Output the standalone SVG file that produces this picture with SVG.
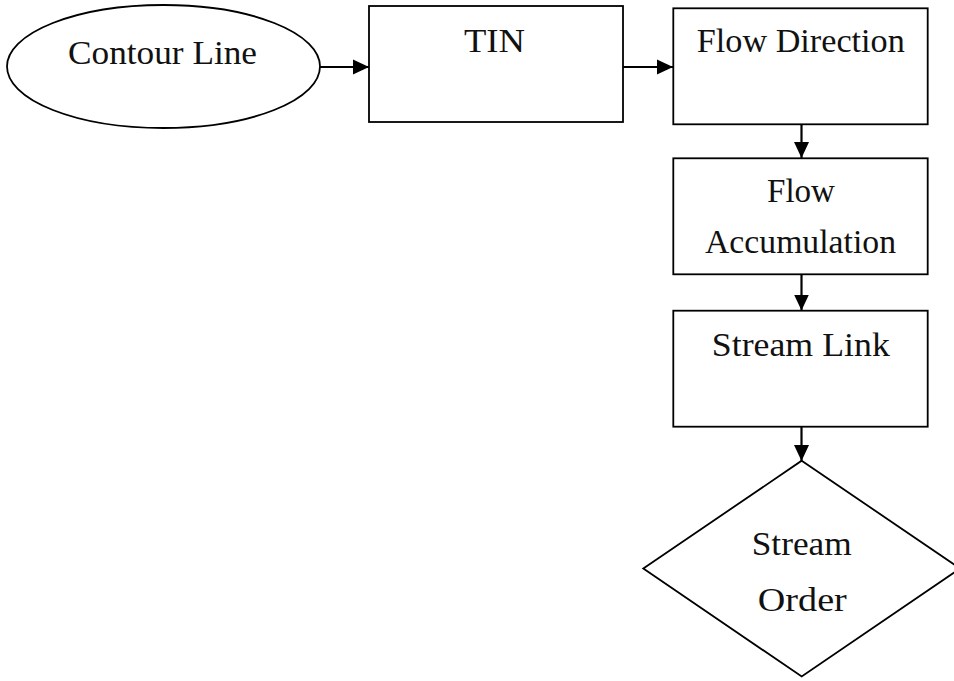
<svg xmlns="http://www.w3.org/2000/svg" width="954" height="681" viewBox="0 0 954 681">
  <style>
    .shape { fill: #ffffff; stroke: #000000; stroke-width: 1.8; }
    .label { font-family: "Liberation Serif", "DejaVu Serif", serif; font-size: 33px; fill: #111111; text-anchor: middle; }
    .link { stroke: #000000; stroke-width: 2.2; fill: none; marker-end: url(#arrow); }
  </style>
  <defs>
    <marker id="arrow" markerUnits="userSpaceOnUse" markerWidth="16" markerHeight="16" refX="16" refY="8" orient="auto">
      <path d="M0,0.5 L16,8 L0,15.5 Z" fill="#000000"/>
    </marker>
  </defs>
  <rect width="954" height="681" fill="#ffffff"/>

  <g id="connectors">
    <line class="link" x1="320" y1="67" x2="369" y2="67"/>
    <line class="link" x1="623" y1="67" x2="673" y2="67"/>
    <line class="link" x1="801.5" y1="124" x2="801.5" y2="158"/>
    <line class="link" x1="801.5" y1="274" x2="801.5" y2="310.5"/>
    <line class="link" x1="801.5" y1="427" x2="801.5" y2="461"/>
  </g>

  <g id="contour-line">
    <ellipse class="shape" cx="163.5" cy="66.5" rx="156.5" ry="61.5"/>
    <text class="label" x="162.5" y="63.5" textLength="189" lengthAdjust="spacingAndGlyphs">Contour Line</text>
  </g>

  <g id="tin">
    <rect class="shape" x="369" y="6" width="254" height="116"/>
    <text class="label" x="494.5" y="52.3" textLength="61" lengthAdjust="spacingAndGlyphs">TIN</text>
  </g>

  <g id="flow-direction">
    <rect class="shape" x="673.3" y="8.3" width="254.4" height="116"/>
    <text class="label" x="800.8" y="51.7" textLength="208" lengthAdjust="spacingAndGlyphs">Flow Direction</text>
  </g>

  <g id="flow-accumulation">
    <rect class="shape" x="673.3" y="158.3" width="254.4" height="116"/>
    <text class="label" x="801" y="202" textLength="68" lengthAdjust="spacingAndGlyphs">Flow</text>
    <text class="label" x="800.5" y="253.3" textLength="191" lengthAdjust="spacingAndGlyphs">Accumulation</text>
  </g>

  <g id="stream-link">
    <rect class="shape" x="673.3" y="310.7" width="254.4" height="116"/>
    <text class="label" x="800.8" y="355.7" textLength="178" lengthAdjust="spacingAndGlyphs">Stream Link</text>
  </g>

  <g id="stream-order">
    <polygon class="shape" points="801.7,460.7 960,568.5 801.7,676.5 643.3,568.5"/>
    <text class="label" x="801.7" y="555" textLength="100" lengthAdjust="spacingAndGlyphs">Stream</text>
    <text class="label" x="802.3" y="610.7" textLength="89" lengthAdjust="spacingAndGlyphs">Order</text>
  </g>
</svg>
